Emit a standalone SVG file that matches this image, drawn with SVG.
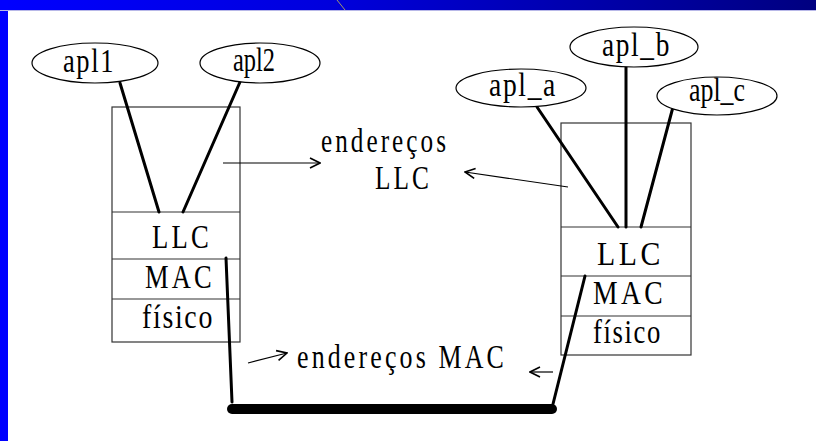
<svg xmlns="http://www.w3.org/2000/svg" width="816" height="441" viewBox="0 0 816 441">
<defs>
<linearGradient id="topbar" x1="0" y1="0" x2="1" y2="0">
<stop offset="0" stop-color="#0000ff"/>
<stop offset="0.4" stop-color="#0000dd"/>
<stop offset="1" stop-color="#000080"/>
</linearGradient>
<marker id="arr" viewBox="0 0 12 12" refX="11" refY="6" markerWidth="12" markerHeight="12" markerUnits="userSpaceOnUse" orient="auto">
<path d="M1,1 L11,6 L1,11" fill="none" stroke="#000" stroke-width="1.6"/>
</marker>
</defs>
<style>
text{font-family:"Liberation Serif","Times New Roman",serif;fill:#000;}
.lbl{font-size:33px;}
.sp{letter-spacing:4px;}
.sp2{letter-spacing:2px;}
.app ellipse{fill:#fff;stroke:#000;stroke-width:1.2;}
.stack rect,.stack line{fill:none;stroke:#333;stroke-width:1.2;}
.thick{stroke:#000;stroke-width:3;fill:none;stroke-linecap:round;}
.thin{stroke:#000;stroke-width:1.2;fill:none;marker-end:url(#arr);}
</style>
<rect x="0" y="0" width="816" height="441" fill="#fff"/>
<rect x="0" y="0" width="816" height="10" fill="url(#topbar)"/>
<rect x="0" y="0" width="8" height="441" fill="#0000ff"/>
<line x1="0" y1="10.5" x2="816" y2="10.5" stroke="#b8b8e8" stroke-width="1"/>
<line x1="337" y1="0" x2="345" y2="10" stroke="#c8c050" stroke-width="0.8"/>

<g id="stack-left" class="stack">
<rect x="112" y="107" width="128" height="235"/>
<line x1="112" y1="212" x2="240" y2="212"/>
<line x1="112" y1="259" x2="240" y2="259"/>
<line x1="112" y1="299" x2="240" y2="299"/>
<text class="lbl sp" x="152" y="248" textLength="60" lengthAdjust="spacingAndGlyphs">LLC</text>
<text class="lbl sp" x="145" y="288" textLength="70" lengthAdjust="spacingAndGlyphs">MAC</text>
<text class="lbl sp2" x="142" y="328" textLength="72" lengthAdjust="spacingAndGlyphs">físico</text>
</g>

<g id="stack-right" class="stack">
<rect x="561" y="123" width="130" height="232"/>
<line x1="561" y1="227" x2="691" y2="227"/>
<line x1="561" y1="276" x2="691" y2="276"/>
<line x1="561" y1="316" x2="691" y2="316"/>
<text class="lbl sp" x="597" y="265" textLength="67" lengthAdjust="spacingAndGlyphs">LLC</text>
<text class="lbl sp" x="593" y="304" textLength="73" lengthAdjust="spacingAndGlyphs">MAC</text>
<text class="lbl sp2" x="593" y="343" textLength="69" lengthAdjust="spacingAndGlyphs">físico</text>
</g>

<g id="connectors">
<line class="thick" x1="120" y1="83" x2="159" y2="212"/>
<line class="thick" x1="240" y1="82" x2="183" y2="212"/>
<line class="thick" x1="226" y1="258" x2="232" y2="402"/>
<line class="thick" x1="585" y1="276" x2="553" y2="404"/>
<line class="thick" x1="537" y1="107" x2="618" y2="227"/>
<line class="thick" x1="626" y1="67" x2="626" y2="227"/>
<line class="thick" x1="673" y1="107" x2="641" y2="227"/>
<line x1="232" y1="409" x2="552" y2="409" stroke="#000" stroke-width="10" stroke-linecap="round"/>
<line class="thin" x1="223" y1="163" x2="320" y2="163"/>
<line class="thin" x1="568" y1="187" x2="465" y2="172"/>
<line class="thin" x1="248" y1="363" x2="287" y2="353"/>
<line class="thin" x1="553" y1="372" x2="530" y2="372"/>
</g>

<g id="apl1" class="app">
<ellipse cx="95" cy="63" rx="63" ry="20"/>
<text class="lbl sp2" x="63" y="72" textLength="52" lengthAdjust="spacingAndGlyphs">apl1</text>
</g>
<g id="apl2" class="app">
<ellipse cx="260" cy="63" rx="60" ry="20"/>
<text class="lbl" x="233" y="71" textLength="42" lengthAdjust="spacingAndGlyphs">apl2</text>
</g>
<g id="apl_a" class="app">
<ellipse cx="521" cy="88" rx="65" ry="19"/>
<text class="lbl sp2" x="489" y="96" textLength="68" lengthAdjust="spacingAndGlyphs">apl_a</text>
</g>
<g id="apl_b" class="app">
<ellipse cx="634" cy="47" rx="64" ry="20"/>
<text class="lbl sp2" x="602" y="56" textLength="69" lengthAdjust="spacingAndGlyphs">apl_b</text>
</g>
<g id="apl_c" class="app">
<ellipse cx="717" cy="96" rx="60" ry="19"/>
<text class="lbl" x="689" y="101" textLength="56" lengthAdjust="spacingAndGlyphs">apl_c</text>
</g>

<g id="labels">
<text class="lbl sp" x="321" y="152" textLength="128" lengthAdjust="spacingAndGlyphs">endereços</text>
<text class="lbl sp" x="375" y="189" textLength="57" lengthAdjust="spacingAndGlyphs">LLC</text>
<text class="lbl sp" x="297" y="368" textLength="210" lengthAdjust="spacingAndGlyphs">endereços MAC</text>
</g>
</svg>
